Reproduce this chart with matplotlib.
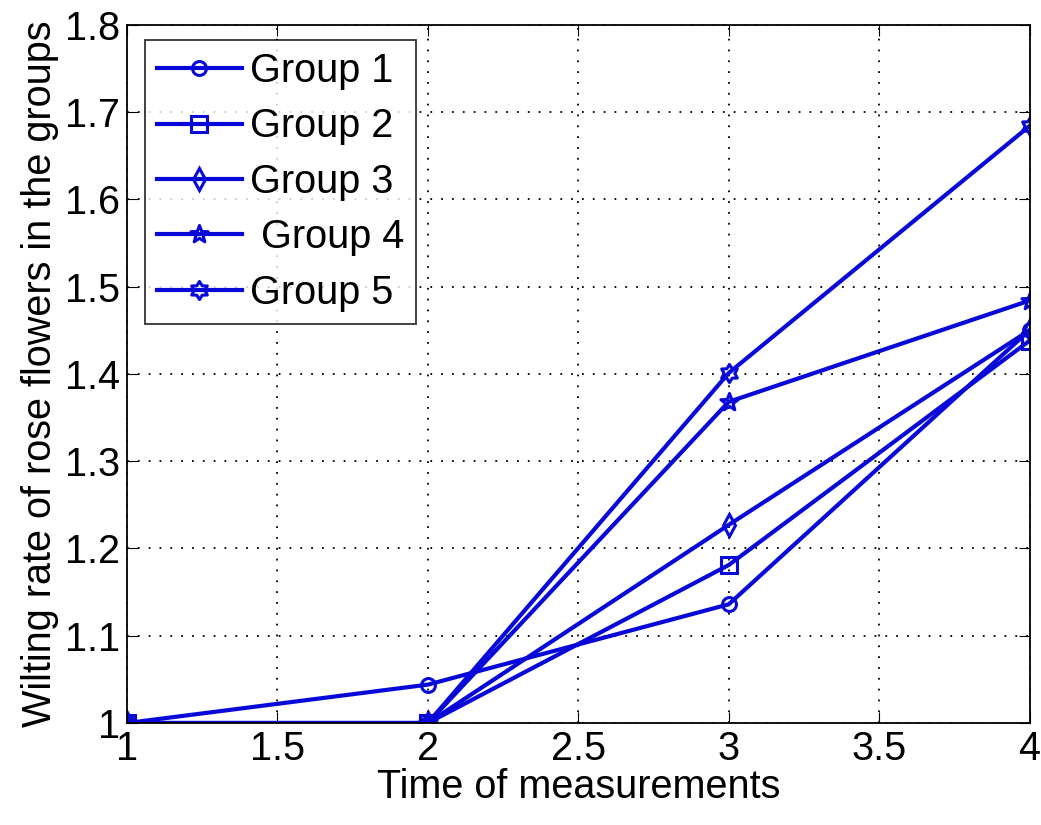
import numpy as np
import matplotlib
matplotlib.use("Agg")
import matplotlib.pyplot as plt
from matplotlib.path import Path

plt.rcParams['font.family'] = ['Liberation Sans', 'DejaVu Sans']

# measurement times
times = [1, 2, 3, 4]

# wilting rate per group
group1 = [1.0, 1.044, 1.136, 1.450]
group2 = [1.0, 1.0, 1.181, 1.438]
group3 = [1.0, 1.0, 1.227, 1.450]
group4 = [1.0, 1.0, 1.368, 1.484]
group5 = [1.0, 1.0, 1.401, 1.684]

labels = ["Group 1", "Group 2", "Group 3", " Group 4", "Group 5"]
series = [group1, group2, group3, group4, group5]


def star(n, inner=0.45):
    # n-pointed star marker (matlab pentagram / hexagram look)
    ang = np.pi / 2 + np.arange(2 * n) * np.pi / n
    r = np.where(np.arange(2 * n) % 2 == 0, 1.0, inner)
    pts = np.column_stack([r * np.cos(ang), r * np.sin(ang)])
    pts = np.vstack([pts, pts[:1]])
    codes = [Path.MOVETO] + [Path.LINETO] * (2 * n - 1) + [Path.CLOSEPOLY]
    return Path(pts, codes)


markers = ["o", "s", "d", star(5, 0.42), star(6, 0.6)]
sizes = [10, 11, 11, 13, 13]

blue = "#0808d8"

fig = plt.figure(figsize=(10.41, 8.25), dpi=100)
ax = fig.add_axes([0.122, 0.1236, 0.867, 0.8464])

for vals, lab, m, s in zip(series, labels, markers, sizes):
    ax.plot(times, vals, color=blue, lw=3, marker=m, ms=s,
            markerfacecolor="none", markeredgecolor=blue, mew=2.2, label=lab)

ax.set_xlim(1, 4)
ax.set_ylim(1, 1.8)
ax.set_xticks([1, 1.5, 2, 2.5, 3, 3.5, 4])
ax.set_xticklabels(["1", "1.5", "2", "2.5", "3", "3.5", "4"])
ax.set_yticks([1, 1.1, 1.2, 1.3, 1.4, 1.5, 1.6, 1.7, 1.8])
ax.set_yticklabels(["1", "1.1", "1.2", "1.3", "1.4", "1.5", "1.6", "1.7", "1.8"])
ax.grid(True, color="black", linestyle=(0, (1, 5)), linewidth=1.3)
ax.tick_params(direction="in", length=8, labelsize=28.5, top=True, right=True, pad=5)
for s in ax.spines.values():
    s.set_linewidth(1.3)

ax.set_xlabel("Time of measurements", fontsize=28.5, labelpad=0)
ax.set_ylabel("Wilting rate of rose flowers in the groups", fontsize=28.5, labelpad=4)

leg = ax.legend(loc="upper left", fontsize=28.5, frameon=True, fancybox=False,
                edgecolor="black", handlelength=2.15, handletextpad=0.2,
                labelspacing=0.44, borderpad=0.3, borderaxespad=0,
                bbox_to_anchor=(0.02, 0.978))
leg.get_frame().set_linewidth(1.3)

fig.savefig("out.png", dpi=100)
